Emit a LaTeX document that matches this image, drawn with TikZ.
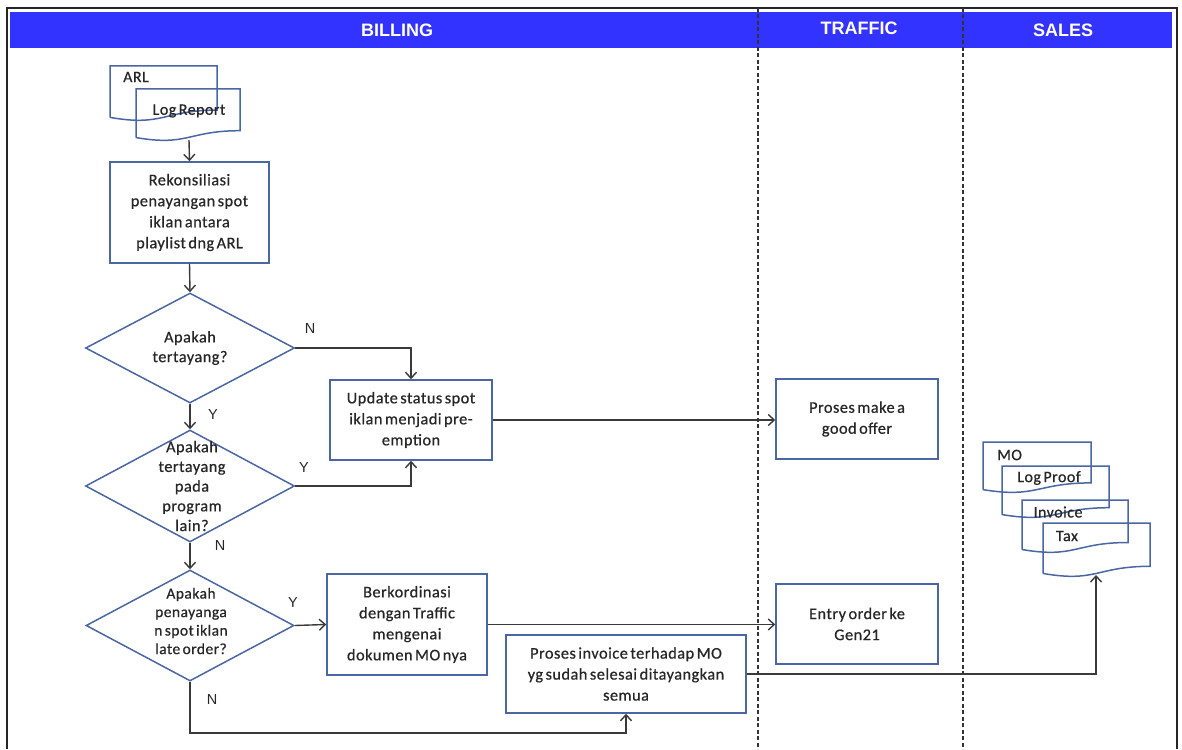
\documentclass[tikz,border=0pt]{standalone}
\usepackage{fontspec}
\setmainfont{Carlito}
\newfontfamily\calfont[LetterSpace=3,WordSpace=0.6,FakeBold=0.6]{Carlito}
\newfontfamily\arialfont{Liberation Sans}
\usetikzlibrary{shapes.geometric,arrows.meta}
\definecolor{hdrblue}{HTML}{3333FF}
\definecolor{boxc}{HTML}{4A66A3}
\definecolor{arrc}{HTML}{3A3A3A}
\definecolor{txtc}{HTML}{262626}
\tikzset{
  procbox/.style={draw=boxc, line width=1.5pt, inner sep=0pt, align=center,
    font=\calfont\fontsize{16.3}{21}\selectfont, text=txtc},
  decbox/.style={diamond, draw=boxc, line width=1.5pt, inner sep=0pt},
  dectext/.style={align=center, inner sep=0pt, font=\calfont\fontsize{16.3}{19.7}\selectfont, text=txtc},
  doctext/.style={inner sep=0pt, font=\calfont\fontsize{16}{18}\selectfont, text=txtc},
  docst/.style={draw=boxc, line width=1.5pt},
  flow/.style={draw=arrc, line width=1.4pt, -{Straight Barb[length=6pt,width=11pt]}},
  yn/.style={font=\arialfont\fontsize{14.5}{16}\selectfont, text=txtc},
  hdr/.style={font=\arialfont\bfseries\fontsize{18}{20}\selectfont, text=white},
  lane/.style={draw=black!80, line width=1.3pt, dash pattern=on 4pt off 2.5pt},
}
\newcommand\docpath[4]{%
  \draw[docst] (#1,{#2+0.934*#4}) -- (#1,#2) -- (#3,#2) -- (#3,{#2+0.802*#4})
    .. controls ({(#1+#3)/2},{#2+0.802*#4}) and ({(#1+#3)/2},{#2+1.107*#4}) .. (#1,{#2+0.934*#4});}
\begin{document}
\begin{tikzpicture}[x=1pt,y=-1pt]
\useasboundingbox (0,0) rectangle (1182,749);
% frame and header
\draw[line width=1.6pt, black!85] (7,749) -- (7,8) -- (1177,8) -- (1177,749);
\fill[hdrblue] (10,12) rectangle (1172,48);
\node[hdr] (hbill) at (397,30) {BILLING};
\node[hdr] (htraf) at (859,28) {TRAFFIC};
\node[hdr] (hsales) at (1063,30) {SALES};
\draw[lane] (758,8) -- (758,749);
\draw[lane] (963,8) -- (963,749);

% documents top-left
\docpath{110}{66}{217}{55}
\docpath{136}{89}{240}{52}
\node[doctext, anchor=west] (arlt) at (123,77) {ARL};
\node[doctext] (lrt) at (189,111) {Log Report};
\coordinate (lrb) at (189,140);

% documents sales
\docpath{983}{442}{1091}{51}
\docpath{1002}{466}{1109}{52}
\docpath{1022}{500}{1128}{53}
\docpath{1043}{523}{1150}{54}
\node[doctext, anchor=west] (mot) at (997,455) {MO};
\node[doctext] (lpt) at (1049,478) {Log Proof};
\node[doctext] (invt) at (1058,512) {Invoice};
\node[doctext] (taxt) at (1067,536) {Tax};
\coordinate (taxb) at (1096,575);

% process boxes
\node[procbox, minimum width=159, minimum height=101] (rek) at (189.5,212.5)
  {Rekonsiliasi\\penayangan spot\\iklan antara\\playlist dng ARL};
\node[procbox, minimum width=162, minimum height=80] (upd) at (411,420)
  {Update status spot\\iklan menjadi pre-\\emption};
\node[procbox, minimum width=162, minimum height=80] (pmo) at (857,419)
  {Proses make a\\good offer};
\node[procbox, minimum width=160, minimum height=101] (ber) at (407,624.5)
  {Berkordinasi\\dengan Traffic\\mengenai\\dokumen MO nya};
\node[procbox, minimum width=162, minimum height=80] (ent) at (857,624)
  {Entry order ke\\Gen21};
\node[procbox, minimum width=240, minimum height=78] (inv) at (626,674)
  {Proses invoice terhadap MO\\yg sudah selesai ditayangkan\\semua};

% decisions
\node[decbox, minimum width=209, minimum height=110] (d1) at (190,348) {};
\node[dectext] (d1t) at (d1.center) {Apakah\\tertayang?};
\node[decbox, minimum width=209, minimum height=112] (d2) at (190,486) {};
\node[dectext] (d2t) at (192,486) {Apakah\\tertayang\\pada\\program\\lain?};
\node[decbox, minimum width=208, minimum height=111] (d3) at (190,625.5) {};
\node[dectext, font=\calfont\fontsize{15.5}{18.5}\selectfont] (d3t) at (191,621) {Apakah\\penayanga\\n spot iklan\\late order?};

% connectors
\draw[flow] (lrb) -- (rek.north);
\draw[flow] (rek.south) -- (d1.north);
\draw[flow] (d1.east) -| (upd.north);
\draw[flow] (d1.south) -- (d2.north);
\draw[flow] (d2.east) -| (upd.south);
\draw[flow] (upd.east) -- (upd.east -| pmo.west);
\draw[flow] (d2.south) -- (d3.north);
\draw[flow] (d3.east) -- (ber.west);
\draw[flow] (ber.east) -- (ber.east -| ent.west);
\draw[flow] (d3.south) -- (190,733) -| (inv.south);
\draw[flow] (inv.east) -| (taxb);

% labels
\node[yn] (ln1) at (310,329) {N};
\node[yn] (ly1) at (213,415) {Y};
\node[yn] (ly2) at (304,468) {Y};
\node[yn] (ln2) at (220,546) {N};
\node[yn] (ly3) at (293,603) {Y};
\node[yn] (ln3) at (212,700) {N};
\end{tikzpicture}
\end{document}
